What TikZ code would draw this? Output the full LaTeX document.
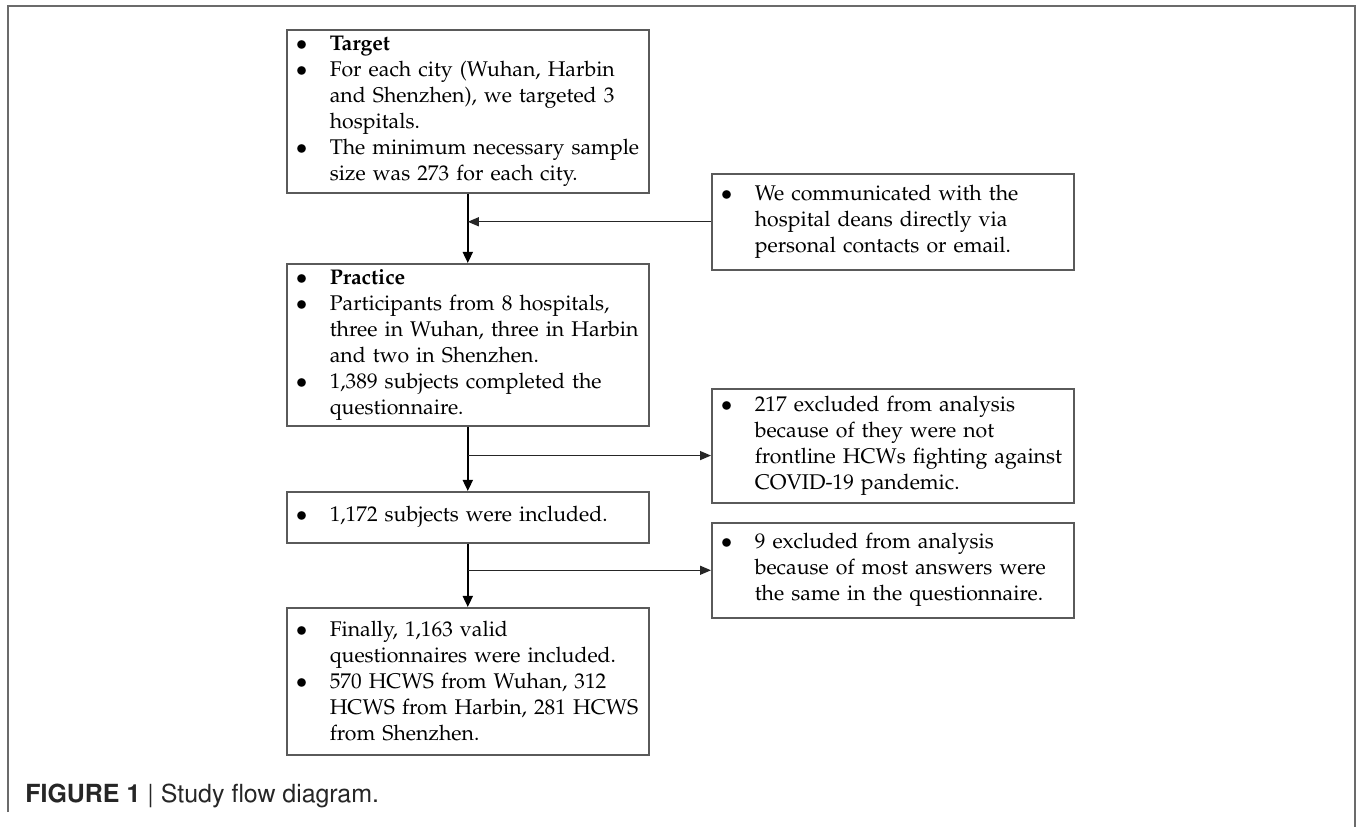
\documentclass[tikz,border=0pt]{standalone}
\usepackage[T1]{fontenc}
\usepackage{mathpazo}
\usepackage{tikz}
\usetikzlibrary{arrows.meta,calc}
\definecolor{framegray}{HTML}{6B6B6B}
\definecolor{boxgray}{HTML}{5A5A5A}
\newcommand{\boxfont}{\fontsize{12.1}{14.8}\selectfont}
\newcommand{\capfont}{\usefont{T1}{phv}{m}{n}\fontsize{14.2}{16}\selectfont}
\newcommand{\flowitem}[1]{\noindent\hangindent=0.68cm\hangafter=1\makebox[0.68cm][l]{$\bullet$}#1\par}

\begin{document}
\begin{tikzpicture}[
 stage/.style={draw=boxgray,line width=0.9pt,fill=white,text width=6.88cm,inner xsep=0.18cm,inner ysep=0.1cm,align=left,font=\boxfont,anchor=north west},
 flowline/.style={draw=black,line width=1.0pt,-{Triangle[length=0.22cm,width=0.2cm]}},
 sideline/.style={draw=black!85,line width=0.8pt,-{Triangle[length=0.22cm,width=0.18cm]}},
 frameline/.style={draw=framegray,line width=1.1pt},
 caption/.style={font=\capfont,text=black!85,inner sep=0pt,anchor=base west}]
\useasboundingbox (0,0) rectangle (27.14,16.54);

% Open page frame round the figure.
\draw[frameline] (0.16,0.30) -- (0.16,16.42) -- (27.10,16.42) -- (27.10,0);

% Main stages of the study, one column.
\node[stage,minimum height=3.26cm] (target) at (5.72,15.96) {\flowitem{\textbf{Target}}\flowitem{For each city (Wuhan, Harbin\newline and Shenzhen), we targeted 3\newline hospitals.}\flowitem{The minimum necessary sample\newline size was 273 for each city.}};
\node[stage,minimum height=3.24cm] (practice) at (5.72,11.28) {\flowitem{\textbf{Practice}}\flowitem{Participants from 8 hospitals,\newline three in Wuhan, three in Harbin\newline and two in Shenzhen.}\flowitem{1,389 subjects completed the\newline questionnaire.}};
\node[stage,minimum height=1.02cm] (included) at (5.72,6.72) {\flowitem{1,172 subjects were included.}};
\node[stage,minimum height=2.94cm] (final) at (5.72,4.40) {\flowitem{Finally, 1,163 valid\newline questionnaires were included.}\flowitem{570 HCWS from Wuhan, 312\newline HCWS from Harbin, 281 HCWS\newline from Shenzhen.}};

% Side notes: recruitment and exclusions.
\node[stage,minimum height=1.92cm] (contact) at (14.22,13.08) {\flowitem{We communicated with the\newline hospital deans directly via\newline personal contacts or email.}};
\node[stage,minimum height=2.28cm] (exclA) at (14.22,8.78) {\flowitem{217 excluded from analysis\newline because of they were not\newline frontline HCWs fighting against\newline COVID-19 pandemic.}};
\node[stage,minimum height=1.90cm] (exclB) at (14.22,6.10) {\flowitem{9 excluded from analysis\newline because of most answers were\newline the same in the questionnaire.}};

\draw[flowline] (target.south) -- (practice.north);
\draw[flowline] (practice.south) -- (included.north);
\draw[flowline] (included.south) -- (final.north);
\coordinate (joinC) at (target.south |- contact.west);
\coordinate (joinA) at ($(practice.south)+(0,-0.58)$);
\coordinate (joinB) at (included.south |- exclB.west);
\draw[sideline] (contact.west) -- (joinC);
\draw[sideline] (joinA) -- (joinA -| exclA.west);
\draw[sideline] (joinB) -- (exclB.west);

\node[caption] (figcap) at (0.50,0.50) {\textbf{FIGURE 1} | Study flow diagram.};
\end{tikzpicture}
\end{document}
